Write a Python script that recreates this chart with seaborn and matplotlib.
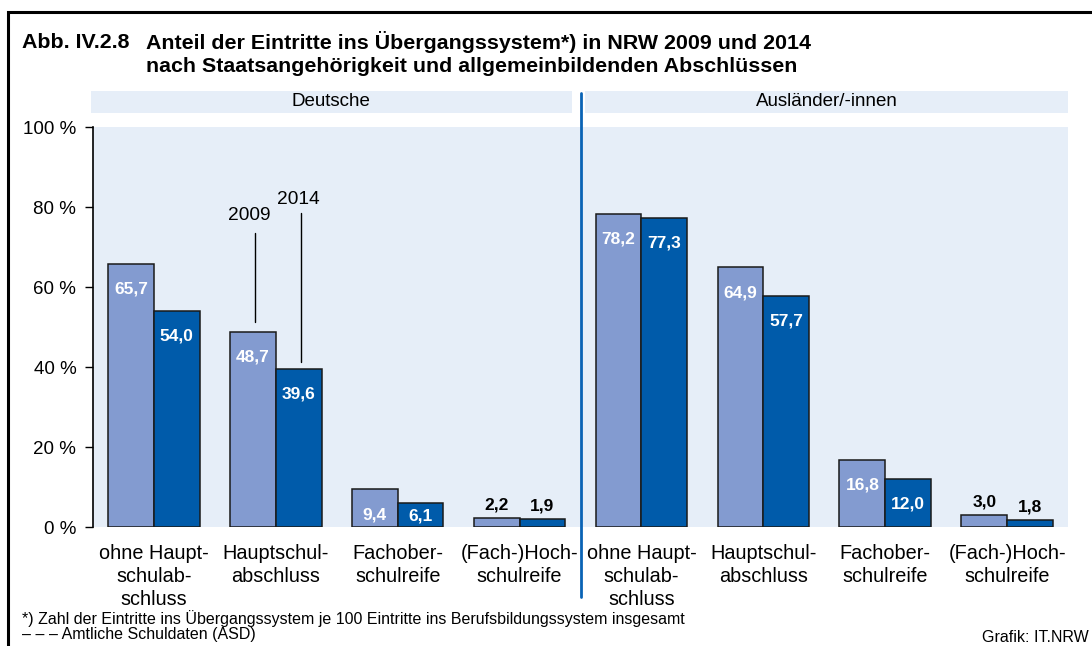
import matplotlib
matplotlib.use("Agg")
import matplotlib.pyplot as plt
import matplotlib.patches as mpatches
import seaborn as sns
import pandas as pd

# --- data -------------------------------------------------------------
gruppen = ["Deutsche", "Ausländer/-innen"]
abschluesse = [
    "ohne Haupt-\nschulab-\nschluss",
    "Hauptschul-\nabschluss",
    "Fachober-\nschulreife",
    "(Fach-)Hoch-\nschulreife",
]
jahre = ["2009", "2014"]
deutsche_2009 = [65.7, 48.7, 9.4, 2.2]
deutsche_2014 = [54.0, 39.6, 6.1, 1.9]
auslaender_2009 = [78.2, 64.9, 16.8, 3.0]
auslaender_2014 = [77.3, 57.7, 12.0, 1.8]
y_ticks = [0, 20, 40, 60, 80, 100]

# --- long table for seaborn ------------------------------------------
rows = []
werte = {
    ("Deutsche", "2009"): deutsche_2009,
    ("Deutsche", "2014"): deutsche_2014,
    ("Ausländer/-innen", "2009"): auslaender_2009,
    ("Ausländer/-innen", "2014"): auslaender_2014,
}
for g in gruppen:
    for i, a in enumerate(abschluesse):
        for j in jahre:
            rows.append({"kategorie": f"{g}|{a}", "jahr": j, "anteil": werte[(g, j)][i]})
df = pd.DataFrame(rows)
order = [f"{g}|{a}" for g in gruppen for a in abschluesse]

# --- style -------------------------------------------------------------
sns.set_style("white")
plt.rcParams["font.family"] = ["Liberation Sans", "DejaVu Sans"]
plt.rcParams["text.color"] = "black"
plt.rcParams["xtick.color"] = "black"
plt.rcParams["ytick.color"] = "black"
plt.rcParams["xtick.labelcolor"] = "black"
plt.rcParams["ytick.labelcolor"] = "black"

hell = "#839BD0"
dunkel = "#005BAA"
hintergrund = "#E6EEF8"

fig = plt.figure(figsize=(10.92, 6.46), dpi=100)
W, H = 1092, 646
ax = fig.add_axes([93 / W, (H - 527) / H, (1068 - 93) / W, (527 - 127) / H])
ax.set_facecolor(hintergrund)

sns.barplot(
    data=df, x="kategorie", y="anteil", hue="jahr", order=order,
    hue_order=jahre, palette=[hell, dunkel], width=0.75,
    edgecolor="#1a1a1a", linewidth=1.1, saturation=1, legend=False, ax=ax,
)

ax.set_xlim(-0.5, 7.5)
ax.set_ylim(0, 100)
ax.set_xlabel("")
ax.set_ylabel("")
ax.set_yticks(y_ticks)
ax.set_yticklabels([f"{t} %" for t in y_ticks], fontsize=13.5, color="black")
ax.set_xticks(range(len(order)))
ax.set_xticklabels(abschluesse * 2, fontsize=14.3, linespacing=1.28, color="black")
ax.tick_params(axis="x", length=0, pad=12)
ax.tick_params(axis="y", left=True, length=6, width=1, color="black", pad=6)
for s in ["top", "right", "bottom"]:
    ax.spines[s].set_visible(False)
ax.spines["left"].set_color("black")
ax.spines["left"].set_linewidth(1.2)

# --- value labels ------------------------------------------------------
for cont in ax.containers:
    for bar in cont:
        v = bar.get_height()
        xc = bar.get_x() + bar.get_width() / 2
        txt = f"{v:.1f}".replace(".", ",")
        if v >= 5:
            ax.text(xc, max(v - 6.3, 2.8), txt, ha="center", va="center",
                    color="white", fontsize=12.5, fontweight="bold")
        else:
            ax.text(xc, v + 3.3, txt, ha="center", va="center",
                    color="black", fontsize=12.5, fontweight="bold")

# --- year markers on the second group ----------------------------------
bars09 = ax.containers[0][1]
bars14 = ax.containers[1][1]
x09 = bars09.get_x() + bars09.get_width() / 2 + 0.02
x14 = bars14.get_x() + bars14.get_width() / 2 + 0.02
ax.plot([x09, x09], [bars09.get_height() + 2.5, 73.5], color="black", lw=1)
ax.plot([x14, x14], [bars14.get_height() + 1.7, 78.5], color="black", lw=1)
ax.text(x09 - 0.05, 78, "2009", ha="center", va="center", fontsize=13.8)
ax.text(x14 - 0.02, 82, "2014", ha="center", va="center", fontsize=13.8)

# --- group header strips and separator --------------------------------
for x0, x1, name in [(-0.52, 3.43, gruppen[0]), (3.54, 7.5, gruppen[1])]:
    ax.add_patch(mpatches.Rectangle((x0, 103.5), x1 - x0, 5.5, facecolor=hintergrund,
                                    edgecolor="none", clip_on=False, zorder=1))
    ax.text((x0 + x1) / 2, 106.3, name, ha="center", va="center", fontsize=13.5)
ax.plot([3.5, 3.5], [108.5, -17.5], color="#0A63B5", lw=2, clip_on=False, zorder=5)

# --- frame, title and notes -------------------------------------------
fig.patches.append(mpatches.Rectangle((8 / W, -0.01), 1.1, (H - 12) / H + 0.01,
                                      transform=fig.transFigure, fill=False,
                                      edgecolor="black", linewidth=2.2))
fig.text(22 / W, 1 - 42 / H, "Abb. IV.2.8", fontsize=15.4, fontweight="bold",
         ha="left", va="center")
fig.text(146 / W, 1 - 42 / H, "Anteil der Eintritte ins Übergangssystem*) in NRW 2009 und 2014",
         fontsize=15.4, fontweight="bold", ha="left", va="center")
fig.text(146 / W, 1 - 66 / H, "nach Staatsangehörigkeit und allgemeinbildenden Abschlüssen",
         fontsize=15.4, fontweight="bold", ha="left", va="center")
fig.text(22 / W, 1 - 619 / H,
         "*) Zahl der Eintritte ins Übergangssystem je 100 Eintritte ins Berufsbildungssystem insgesamt",
         fontsize=11.5, ha="left", va="center")
fig.text(22 / W, 1 - 635 / H, "– – – Amtliche Schuldaten (ASD)", fontsize=11.5,
         ha="left", va="center")
fig.text(1089 / W, 1 - 637 / H, "Grafik: IT.NRW", fontsize=11.5, ha="right", va="center")

fig.savefig("out.png", dpi=100)
